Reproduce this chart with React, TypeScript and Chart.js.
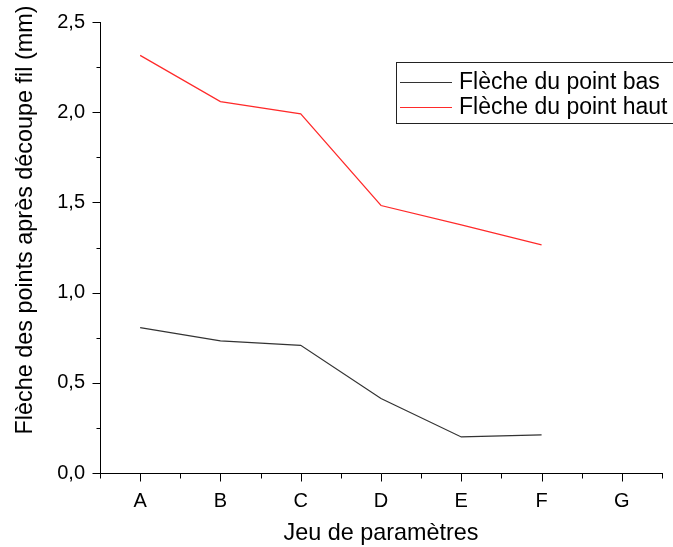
import React, { useEffect, useRef } from "react";
import { Chart, registerables } from "chart.js";

Chart.register(...registerables);

const categories = ["A", "B", "C", "D", "E", "F", "G"];
const flecheBas = [0.806, 0.732, 0.708, 0.413, 0.2, 0.211, null];
const flecheHaut = [2.315, 2.059, 1.991, 1.483, 1.375, 1.265, null];
const seriesLabels = ["Flèche du point bas", "Flèche du point haut"];
const seriesColors = ["#333333", "#ff2a2a"];
const yMin = 0;
const yMax = 2.5;
const yStep = 0.5;
const xTitle = "Jeu de paramètres";
const yTitle = "Flèche des points après découpe fil (mm)";

const FONT = "'Liberation Sans', Arial, sans-serif";

const decorPlugin = {
  id: "decor",
  afterDraw(chart: any) {
    const ctx = chart.ctx;
    const x = chart.scales.x;
    const y = chart.scales.y;
    const area = chart.chartArea;
    const L = Math.round(area.left) + 0.5;
    const B = Math.round(area.bottom) + 0.5;
    ctx.save();
    ctx.strokeStyle = "#000";
    ctx.lineWidth = 1;
    ctx.beginPath();
    for (let v = yMin; v <= yMax + 1e-9; v += yStep / 2) {
      const isMajor = Math.abs(v / yStep - Math.round(v / yStep)) < 1e-6;
      const py = Math.round(y.getPixelForValue(v)) + 0.5;
      ctx.moveTo(L, py);
      ctx.lineTo(L - (isMajor ? 8 : 4), py);
    }
    for (let i = 0; i < categories.length; i++) {
      const px = Math.round(x.getPixelForValue(i)) + 0.5;
      ctx.moveTo(px, B);
      ctx.lineTo(px, B + 8);
    }
    for (let i = 0; i <= categories.length; i++) {
      const px0 = x.getPixelForValue(0);
      const px1 = x.getPixelForValue(1);
      const px = Math.round(px0 + (i - 0.5) * (px1 - px0)) + 0.5;
      ctx.moveTo(px, B);
      ctx.lineTo(px, B + 5);
    }
    ctx.stroke();

    ctx.fillStyle = "#000";
    ctx.font = `23.4px ${FONT}`;
    ctx.textAlign = "center";
    ctx.textBaseline = "alphabetic";
    ctx.fillText(xTitle, 381, 540);
    ctx.save();
    ctx.translate(32, 220);
    ctx.rotate(-Math.PI / 2);
    ctx.fillText(yTitle, 0, 0);
    ctx.restore();

    ctx.strokeStyle = "#222";
    ctx.lineWidth = 1;
    ctx.strokeRect(396.5, 62.5, 300, 61);
    ctx.font = `23px ${FONT}`;
    ctx.textAlign = "left";
    ctx.textBaseline = "middle";
    const rows = [82, 107];
    chart.data.datasets.forEach((ds: any, i: number) => {
      ctx.strokeStyle = ds.borderColor;
      ctx.beginPath();
      ctx.moveTo(400, rows[i] + 0.5);
      ctx.lineTo(452, rows[i] + 0.5);
      ctx.stroke();
      ctx.fillStyle = "#000";
      ctx.fillText(ds.label, 459, rows[i] + 1);
    });
    ctx.restore();
  },
};

export default function App() {
  const ref = useRef<HTMLCanvasElement>(null);
  useEffect(() => {
    if (!ref.current) return;
    const chart = new Chart(ref.current, {
      type: "line",
      data: {
        labels: categories,
        datasets: [
          {
            label: seriesLabels[0],
            data: flecheBas,
            borderColor: seriesColors[0],
            borderWidth: 1.2,
            pointRadius: 0,
            tension: 0,
          },
          {
            label: seriesLabels[1],
            data: flecheHaut,
            borderColor: seriesColors[1],
            borderWidth: 1.2,
            pointRadius: 0,
            tension: 0,
          },
        ],
      },
      options: {
        responsive: false,
        animation: false,
        layout: { padding: { top: 22, right: 11, left: 0, bottom: 0 } },
        plugins: {
          legend: { display: false },
          tooltip: { enabled: false },
        },
        scales: {
          x: {
            type: "category",
            offset: true,
            grid: { display: false, offset: true },
            border: { display: true, color: "#000", width: 1 },
            ticks: {
              color: "#000",
              font: { family: FONT, size: 20 },
              padding: 8,
              maxRotation: 0,
              autoSkip: false,
            },
            afterFit: (s: any) => {
              s.height = 74;
            },
          },
          y: {
            min: yMin,
            max: yMax,
            grid: { display: false },
            border: { display: true, color: "#000", width: 1 },
            ticks: {
              stepSize: yStep,
              color: "#000",
              font: { family: FONT, size: 20 },
              padding: 7,
              callback: (v: any) => Number(v).toFixed(1).replace(".", ","),
            },
            afterFit: (s: any) => {
              s.width = 100;
            },
          },
        },
      },
      plugins: [decorPlugin],
    });
    return () => chart.destroy();
  }, []);
  return (
    <div style={{ position: "fixed", left: 0, top: 0, width: 673, height: 547, background: "#fff" }}>
      <canvas ref={ref} width={673} height={547} />
    </div>
  );
}
